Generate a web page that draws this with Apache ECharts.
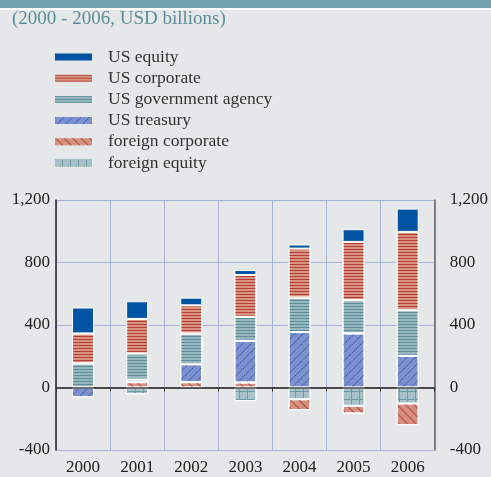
<!DOCTYPE html>
<html>
<head>
<meta charset="utf-8">
<script src="https://cdn.jsdelivr.net/npm/echarts@6/dist/echarts.min.js"></script>
<style>html,body{margin:0;padding:0;background:#e6e7e9;}#c{width:491px;height:477px;}</style>
</head>
<body>
<div id="c"></div>
<script>
const years = ['2000', '2001', '2002', '2003', '2004', '2005', '2006'];
const usEquity = [166, 113, 49, 32, 26, 81, 149];
const usCorporate = [192, 222, 181, 267, 314, 373, 501];
const usGovAgency = [154, 166, 196, 154, 220, 213, 292];
const usTreasury = [-62, 17, 115, 267, 355, 346, 203];
const foreignCorporate = [0, 34, 34, 32, -70, -49, -139];
const foreignEquity = [0, -43, 0, -87, -75, -117, -102];
const yTicks = [-400, 0, 400, 800, 1200];

const FONT = 'Liberation Serif';
const fcPos = foreignCorporate.map(v => v > 0 ? v : '-');
const fcNeg = foreignCorporate.map(v => v < 0 ? v : '-');
const nz = a => a.map(v => v === 0 ? '-' : v);

const border = { borderColor: '#ffffff', borderWidth: 1 };
const styles = {
  equity: Object.assign({ color: '#0052a2' }, border),
  corp: Object.assign({ color: '#d9937f', decal: { symbol: 'rect', symbolSize: 1, dashArrayX: [1, 0], dashArrayY: [1, 2], rotation: 0, color: '#b3403a' } }, border),
  gov: Object.assign({ color: '#97b6bd', decal: { symbol: 'rect', symbolSize: 1, dashArrayX: [1, 0], dashArrayY: [1, 2], rotation: 0, color: '#5d8f9b' } }, border),
  treas: Object.assign({ color: '#7d90cf', decal: { symbol: 'rect', symbolSize: 1, dashArrayX: [1, 5], dashArrayY: [1, 1], rotation: Math.PI / 4, color: '#1f4ea8' } }, border),
  fcorp: Object.assign({ color: '#d5917f', decal: { symbol: 'rect', symbolSize: 1, dashArrayX: [1, 5], dashArrayY: [1, 0], rotation: -Math.PI / 4, color: '#b5463c' } }, border),
  feq: Object.assign({ color: '#6f9aa6', decal: { symbol: 'rect', symbolSize: 1, dashArrayX: [7, 1], dashArrayY: [7, 1], rotation: 0, color: '#a6c1c8' } }, border)
};

function bar(name, data, style, z) {
  return { name: name, type: 'bar', stack: 'total', data: data, barWidth: 22, itemStyle: style, z: z || 3, emphasis: { disabled: true } };
}

const chart = echarts.init(document.getElementById('c'), null, { renderer: 'canvas' });
chart.setOption({
  backgroundColor: '#e6e7e9',
  animation: false,
  graphic: [
    { type: 'rect', shape: { x: 0, y: 0, width: 491, height: 8 }, style: { fill: '#73a0ae' }, silent: true },
    { type: 'rect', shape: { x: 0, y: 8, width: 491, height: 2 }, style: { fill: '#ffffff' }, silent: true }
  ],
  title: {
    text: '(2000 - 2006, USD billions)',
    left: 12, top: 10, padding: 0,
    textStyle: { fontFamily: FONT, fontSize: 19, fontWeight: 'normal', color: '#5a8d9b' }
  },
  legend: {
    orient: 'vertical', left: 55, top: 48, padding: 0,
    itemWidth: 37, itemHeight: 7, itemGap: 3.2,
    icon: 'rect',
    data: ['US equity', 'US corporate', 'US government agency', 'US treasury', 'foreign corporate', 'foreign equity'],
    itemStyle: { borderWidth: 0 },
    textStyle: { fontFamily: FONT, fontSize: 17.5, color: '#333333', padding: [0, 0, 0, 11] },
    selectedMode: false
  },
  grid: { left: 56, right: 54, top: 200, bottom: 27, containLabel: false },
  xAxis: {
    type: 'category', data: years,
    axisLine: { show: true, lineStyle: { color: '#333', width: 1.5 } },
    axisTick: { show: true, length: 4, lineStyle: { color: '#333' } },
    axisLabel: { fontFamily: FONT, fontSize: 17, color: '#222', margin: 9 },
    splitLine: { show: true, lineStyle: { color: '#a8b4de', width: 1 } }
  },
  yAxis: [
    {
      type: 'value', min: yTicks[0], max: yTicks[yTicks.length - 1], interval: 400, position: 'left',
      axisLine: { show: true, lineStyle: { color: '#222', width: 1.5 } },
      axisTick: { show: false },
      axisLabel: { fontFamily: FONT, fontSize: 17, color: '#222', margin: 6, formatter: v => v.toLocaleString('en-US') },
      splitLine: { show: true, lineStyle: { color: '#a8b4de', width: 1 } }
    },
    {
      type: 'value', min: yTicks[0], max: yTicks[yTicks.length - 1], interval: 400, position: 'right',
      axisLine: { show: true, lineStyle: { color: '#666', width: 1.5 } },
      axisTick: { show: false },
      axisLabel: { fontFamily: FONT, fontSize: 17, color: '#222', margin: 15, formatter: v => v.toLocaleString('en-US') },
      splitLine: { show: false }
    }
  ],
  series: [
    {
      type: 'line', data: [], z: 2, silent: true,
      markLine: { silent: true, symbol: 'none', label: { show: false }, lineStyle: { color: '#444', width: 1.5, type: 'solid' }, data: [{ yAxis: 0 }] }
    },
    bar('foreign equity', nz(foreignEquity), styles.feq),
    bar('foreign corporate', fcNeg, styles.fcorp),
    bar('foreign corporate', fcPos, styles.fcorp),
    bar('US treasury', nz(usTreasury), styles.treas),
    bar('US government agency', nz(usGovAgency), styles.gov),
    bar('US corporate', nz(usCorporate), styles.corp),
    bar('US equity', nz(usEquity), styles.equity)
  ]
});
</script>
</body>
</html>
